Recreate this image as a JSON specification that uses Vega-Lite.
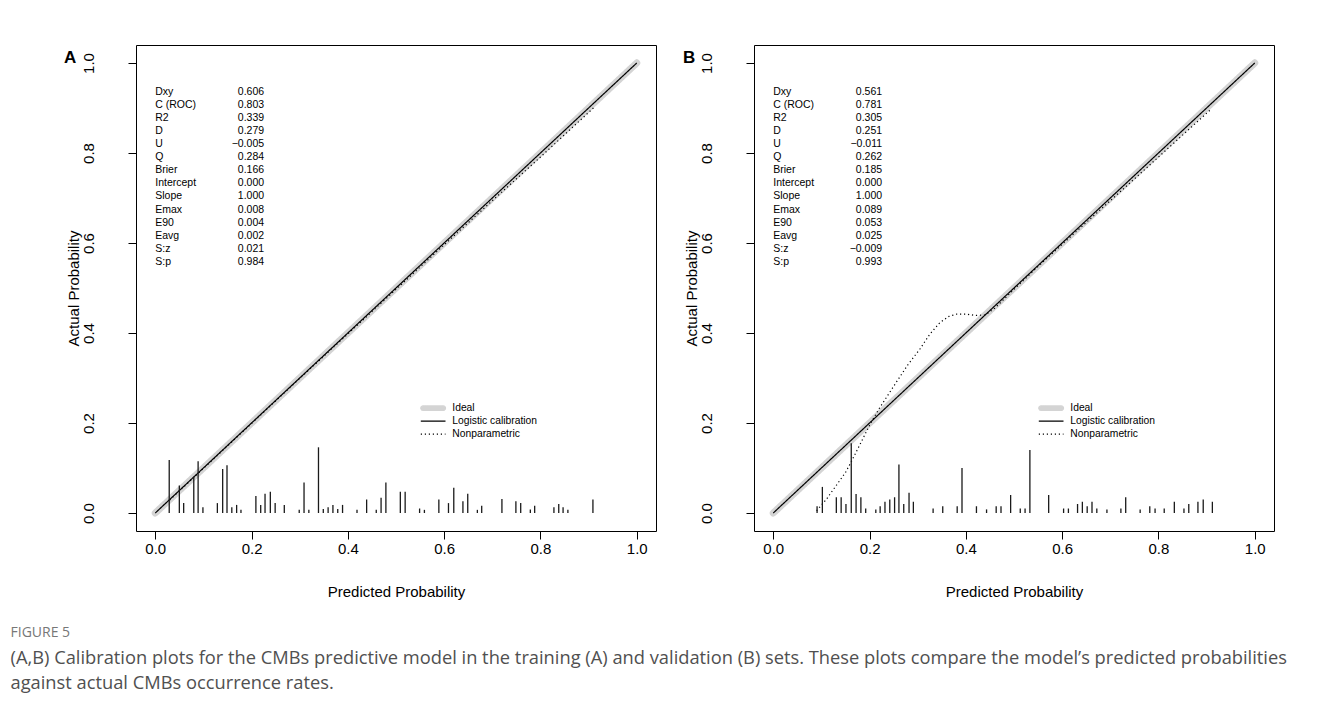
{
  "$schema": "https://vega.github.io/schema/vega-lite/v6.json",
  "background": "white",
  "autosize": {"type": "pad"},
  "padding": {"left": 10, "top": 44, "right": 5, "bottom": 5},
  "datasets": {
    "linesA": [
      {"series": "Ideal", "p": 0, "a": 0}, {"series": "Ideal", "p": 1, "a": 1},
      {"series": "Logistic calibration", "p": 0, "a": 0}, {"series": "Logistic calibration", "p": 1, "a": 1},
      {"series": "Nonparametric", "p": 0.03, "a": 0.029}, {"series": "Nonparametric", "p": 0.1, "a": 0.099},
      {"series": "Nonparametric", "p": 0.2, "a": 0.199}, {"series": "Nonparametric", "p": 0.3, "a": 0.299},
      {"series": "Nonparametric", "p": 0.4, "a": 0.398}, {"series": "Nonparametric", "p": 0.5, "a": 0.497},
      {"series": "Nonparametric", "p": 0.6, "a": 0.596}, {"series": "Nonparametric", "p": 0.7, "a": 0.694},
      {"series": "Nonparametric", "p": 0.8, "a": 0.791}, {"series": "Nonparametric", "p": 0.91, "a": 0.9}
    ],
    "linesB": [
      {"series": "Ideal", "p": 0, "a": 0}, {"series": "Ideal", "p": 1, "a": 1},
      {"series": "Logistic calibration", "p": 0, "a": 0}, {"series": "Logistic calibration", "p": 1, "a": 1},
      {"series": "Nonparametric", "p": 0.09, "a": 0.005}, {"series": "Nonparametric", "p": 0.11, "a": 0.03},
      {"series": "Nonparametric", "p": 0.13, "a": 0.06}, {"series": "Nonparametric", "p": 0.15, "a": 0.09},
      {"series": "Nonparametric", "p": 0.163, "a": 0.116}, {"series": "Nonparametric", "p": 0.18, "a": 0.152},
      {"series": "Nonparametric", "p": 0.2, "a": 0.195}, {"series": "Nonparametric", "p": 0.22, "a": 0.232},
      {"series": "Nonparametric", "p": 0.24, "a": 0.265}, {"series": "Nonparametric", "p": 0.257, "a": 0.293},
      {"series": "Nonparametric", "p": 0.28, "a": 0.33}, {"series": "Nonparametric", "p": 0.305, "a": 0.365},
      {"series": "Nonparametric", "p": 0.325, "a": 0.397}, {"series": "Nonparametric", "p": 0.346, "a": 0.423},
      {"series": "Nonparametric", "p": 0.365, "a": 0.437}, {"series": "Nonparametric", "p": 0.381, "a": 0.442},
      {"series": "Nonparametric", "p": 0.4, "a": 0.442}, {"series": "Nonparametric", "p": 0.42, "a": 0.439},
      {"series": "Nonparametric", "p": 0.44, "a": 0.44}, {"series": "Nonparametric", "p": 0.46, "a": 0.455},
      {"series": "Nonparametric", "p": 0.5, "a": 0.497}, {"series": "Nonparametric", "p": 0.55, "a": 0.548},
      {"series": "Nonparametric", "p": 0.6, "a": 0.597}, {"series": "Nonparametric", "p": 0.7, "a": 0.694},
      {"series": "Nonparametric", "p": 0.8, "a": 0.791}, {"series": "Nonparametric", "p": 0.91, "a": 0.898}
    ],
    "spikesA": [
      {"p": 0.029, "h": 0.118}, {"p": 0.05, "h": 0.061}, {"p": 0.059, "h": 0.022}, {"p": 0.08, "h": 0.08},
      {"p": 0.089, "h": 0.115}, {"p": 0.099, "h": 0.013}, {"p": 0.129, "h": 0.022}, {"p": 0.14, "h": 0.098},
      {"p": 0.149, "h": 0.106}, {"p": 0.159, "h": 0.013}, {"p": 0.169, "h": 0.018}, {"p": 0.178, "h": 0.007},
      {"p": 0.209, "h": 0.038}, {"p": 0.219, "h": 0.018}, {"p": 0.228, "h": 0.043}, {"p": 0.239, "h": 0.047},
      {"p": 0.249, "h": 0.022}, {"p": 0.268, "h": 0.018}, {"p": 0.299, "h": 0.007}, {"p": 0.309, "h": 0.068},
      {"p": 0.319, "h": 0.007}, {"p": 0.339, "h": 0.146}, {"p": 0.349, "h": 0.009}, {"p": 0.359, "h": 0.013},
      {"p": 0.369, "h": 0.018}, {"p": 0.379, "h": 0.009}, {"p": 0.389, "h": 0.018}, {"p": 0.419, "h": 0.007},
      {"p": 0.439, "h": 0.03}, {"p": 0.459, "h": 0.007}, {"p": 0.469, "h": 0.034}, {"p": 0.479, "h": 0.068},
      {"p": 0.509, "h": 0.047}, {"p": 0.519, "h": 0.047}, {"p": 0.549, "h": 0.01}, {"p": 0.559, "h": 0.007},
      {"p": 0.589, "h": 0.03}, {"p": 0.609, "h": 0.022}, {"p": 0.62, "h": 0.056}, {"p": 0.639, "h": 0.026},
      {"p": 0.649, "h": 0.043}, {"p": 0.669, "h": 0.007}, {"p": 0.678, "h": 0.016}, {"p": 0.72, "h": 0.031},
      {"p": 0.749, "h": 0.026}, {"p": 0.759, "h": 0.022}, {"p": 0.779, "h": 0.008}, {"p": 0.788, "h": 0.016},
      {"p": 0.828, "h": 0.013}, {"p": 0.838, "h": 0.02}, {"p": 0.847, "h": 0.013}, {"p": 0.857, "h": 0.007},
      {"p": 0.909, "h": 0.03}
    ],
    "spikesB": [
      {"p": 0.091, "h": 0.015}, {"p": 0.102, "h": 0.058}, {"p": 0.131, "h": 0.035}, {"p": 0.141, "h": 0.035},
      {"p": 0.151, "h": 0.02}, {"p": 0.162, "h": 0.155}, {"p": 0.172, "h": 0.042}, {"p": 0.182, "h": 0.035},
      {"p": 0.192, "h": 0.01}, {"p": 0.213, "h": 0.008}, {"p": 0.222, "h": 0.015}, {"p": 0.232, "h": 0.025},
      {"p": 0.242, "h": 0.03}, {"p": 0.252, "h": 0.035}, {"p": 0.261, "h": 0.108}, {"p": 0.271, "h": 0.02},
      {"p": 0.282, "h": 0.045}, {"p": 0.291, "h": 0.025}, {"p": 0.332, "h": 0.01}, {"p": 0.352, "h": 0.015},
      {"p": 0.382, "h": 0.015}, {"p": 0.392, "h": 0.1}, {"p": 0.422, "h": 0.015}, {"p": 0.443, "h": 0.008},
      {"p": 0.463, "h": 0.015}, {"p": 0.473, "h": 0.015}, {"p": 0.493, "h": 0.04}, {"p": 0.513, "h": 0.01},
      {"p": 0.523, "h": 0.01}, {"p": 0.533, "h": 0.14}, {"p": 0.572, "h": 0.04}, {"p": 0.603, "h": 0.01},
      {"p": 0.613, "h": 0.01}, {"p": 0.632, "h": 0.02}, {"p": 0.642, "h": 0.025}, {"p": 0.652, "h": 0.015},
      {"p": 0.662, "h": 0.025}, {"p": 0.672, "h": 0.01}, {"p": 0.693, "h": 0.008}, {"p": 0.722, "h": 0.01},
      {"p": 0.732, "h": 0.035}, {"p": 0.762, "h": 0.008}, {"p": 0.782, "h": 0.015}, {"p": 0.793, "h": 0.01},
      {"p": 0.812, "h": 0.01}, {"p": 0.833, "h": 0.025}, {"p": 0.853, "h": 0.01}, {"p": 0.863, "h": 0.02},
      {"p": 0.882, "h": 0.025}, {"p": 0.893, "h": 0.03}, {"p": 0.912, "h": 0.025}
    ],
    "statsA": [
      {"stat": "Dxy", "value": "0.606"}, {"stat": "C (ROC)", "value": "0.803"}, {"stat": "R2", "value": "0.339"},
      {"stat": "D", "value": "0.279"}, {"stat": "U", "value": "−0.005"}, {"stat": "Q", "value": "0.284"},
      {"stat": "Brier", "value": "0.166"}, {"stat": "Intercept", "value": "0.000"}, {"stat": "Slope", "value": "1.000"},
      {"stat": "Emax", "value": "0.008"}, {"stat": "E90", "value": "0.004"}, {"stat": "Eavg", "value": "0.002"},
      {"stat": "S:z", "value": "0.021"}, {"stat": "S:p", "value": "0.984"}
    ],
    "statsB": [
      {"stat": "Dxy", "value": "0.561"}, {"stat": "C (ROC)", "value": "0.781"}, {"stat": "R2", "value": "0.305"},
      {"stat": "D", "value": "0.251"}, {"stat": "U", "value": "−0.011"}, {"stat": "Q", "value": "0.262"},
      {"stat": "Brier", "value": "0.185"}, {"stat": "Intercept", "value": "0.000"}, {"stat": "Slope", "value": "1.000"},
      {"stat": "Emax", "value": "0.089"}, {"stat": "E90", "value": "0.053"}, {"stat": "Eavg", "value": "0.025"},
      {"stat": "S:z", "value": "−0.009"}, {"stat": "S:p", "value": "0.993"}
    ]
  },
  "title": {
    "text": "FIGURE 5",
    "subtitle": ["(A,B) Calibration plots for the CMBs predictive model in the training (A) and validation (B) sets. These plots compare the model’s predicted probabilities", "against actual CMBs occurrence rates."],
    "orient": "bottom",
    "anchor": "start",
    "dx": -53,
    "offset": 26,
    "font": "Open Sans",
    "fontSize": 14,
    "fontWeight": "normal",
    "color": "#777777",
    "subtitleFont": "Open Sans",
    "subtitleFontSize": 18.3,
    "subtitleColor": "#505050",
    "subtitleLineHeight": 25,
    "subtitlePadding": 10
  },
  "spacing": 25,
  "hconcat": [
    {
      "width": 520,
      "height": 486,
      "title": {"text": "A", "anchor": "start", "frame": "group", "dx": -72, "dy": 22, "offset": 0, "font": "Liberation Sans", "fontSize": 17, "fontWeight": "bold", "color": "black"},
      "layer": [
        {
          "layer": [
            {
              "data": {"name": "linesA"},
              "transform": [{"filter": "datum.series === 'Ideal'"}],
              "mark": {"type": "line", "strokeWidth": 7, "strokeCap": "round"},
              "encoding": {
                "x": {"field": "p", "type": "quantitative", "scale": {"domain": [-0.04, 1.04], "nice": false, "zero": false}, "axis": {"values": [0, 0.2, 0.4, 0.6, 0.8, 1], "format": ".1f"}, "title": "Predicted Probability"},
                "y": {"field": "a", "type": "quantitative", "scale": {"domain": [-0.04, 1.04], "nice": false, "zero": false}, "axis": {"values": [0, 0.2, 0.4, 0.6, 0.8, 1], "format": ".1f"}, "title": "Actual Probability"},
                "color": {"field": "series", "type": "nominal", "scale": {"domain": ["Ideal", "Logistic calibration", "Nonparametric"], "range": ["#d4d4d4", "#000000", "#000000"]},
                  "legend": {"title": null, "orient": "none", "legendX": 292, "legendY": 358, "symbolType": "M-3.8,0L3.8,0", "symbolSize": 42.25, "symbolStrokeWidth": 1.2, "labelFont": "Liberation Sans", "labelFontSize": 10.3, "labelColor": "black", "labelOffset": 14, "rowPadding": 2, "padding": 0,
                    "encode": {"symbols": {"update": {"shape": {"signal": "datum.value === 'Ideal' ? 'M-3.1,-0.7L3.1,-0.7A0.7,0.7 0 0 1 3.1,0.7L-3.1,0.7A0.7,0.7 0 0 1 -3.1,-0.7Z' : 'M-3.8,0L3.8,0'"}, "fill": {"signal": "datum.value === 'Ideal' ? '#d4d4d4' : 'transparent'"}}}}}},
                "strokeDash": {"field": "series", "type": "nominal", "scale": {"domain": ["Ideal", "Logistic calibration", "Nonparametric"], "range": [[1, 0], [1, 0], [1.2, 2.8]]},
                  "legend": {"title": null, "orient": "none", "legendX": 292, "legendY": 358, "symbolType": "M-3.8,0L3.8,0", "symbolSize": 42.25, "symbolStrokeWidth": 1.2, "labelFont": "Liberation Sans", "labelFontSize": 10.3, "labelColor": "black", "labelOffset": 14, "rowPadding": 2, "padding": 0,
                    "encode": {"symbols": {"update": {"shape": {"signal": "datum.value === 'Ideal' ? 'M-3.1,-0.7L3.1,-0.7A0.7,0.7 0 0 1 3.1,0.7L-3.1,0.7A0.7,0.7 0 0 1 -3.1,-0.7Z' : 'M-3.8,0L3.8,0'"}, "fill": {"signal": "datum.value === 'Ideal' ? '#d4d4d4' : 'transparent'"}}}}}}
              }
            },
            {
              "data": {"name": "linesA"},
              "transform": [{"filter": "datum.series !== 'Ideal'"}],
              "mark": {"type": "line", "strokeWidth": 1.2},
              "encoding": {
                "x": {"field": "p", "type": "quantitative"},
                "y": {"field": "a", "type": "quantitative"},
                "color": {"field": "series", "type": "nominal"},
                "strokeDash": {"field": "series", "type": "nominal"}
              }
            },
            {
              "data": {"name": "spikesA"},
              "mark": {"type": "rule", "color": "#1a1a1a", "strokeWidth": 1.3},
              "encoding": {
                "x": {"field": "p", "type": "quantitative"},
                "y": {"field": "h", "type": "quantitative"},
                "y2": {"datum": 0}
              }
            }
          ]
        },
        {
          "data": {"name": "statsA"},
          "mark": {"type": "text", "align": "left", "baseline": "middle", "font": "Liberation Sans", "fontSize": 10.5, "color": "black"},
          "encoding": {
            "x": {"datum": 0},
            "y": {"field": "stat", "type": "ordinal", "sort": null, "scale": {"type": "point", "range": [46.5, 217], "padding": 0}, "axis": null},
            "text": {"field": "stat"}
          }
        },
        {
          "data": {"name": "statsA"},
          "mark": {"type": "text", "align": "right", "baseline": "middle", "font": "Liberation Sans", "fontSize": 10.5, "color": "black"},
          "encoding": {
            "x": {"datum": 0.226},
            "y": {"field": "stat", "type": "ordinal", "sort": null, "scale": {"type": "point", "range": [46.5, 217], "padding": 0}, "axis": null},
            "text": {"field": "value"}
          }
        }
      ],
      "resolve": {"scale": {"y": "independent"}}
    },
    {
      "width": 520,
      "height": 486,
      "title": {"text": "B", "anchor": "start", "frame": "group", "dx": -71, "dy": 22, "offset": 0, "font": "Liberation Sans", "fontSize": 17, "fontWeight": "bold", "color": "black"},
      "layer": [
        {
          "layer": [
            {
              "data": {"name": "linesB"},
              "transform": [{"filter": "datum.series === 'Ideal'"}],
              "mark": {"type": "line", "strokeWidth": 7, "strokeCap": "round"},
              "encoding": {
                "x": {"field": "p", "type": "quantitative", "scale": {"domain": [-0.04, 1.04], "nice": false, "zero": false}, "axis": {"values": [0, 0.2, 0.4, 0.6, 0.8, 1], "format": ".1f"}, "title": "Predicted Probability"},
                "y": {"field": "a", "type": "quantitative", "scale": {"domain": [-0.04, 1.04], "nice": false, "zero": false}, "axis": {"values": [0, 0.2, 0.4, 0.6, 0.8, 1], "format": ".1f"}, "title": "Actual Probability"},
                "color": {"field": "series", "type": "nominal", "scale": {"domain": ["Ideal", "Logistic calibration", "Nonparametric"], "range": ["#d4d4d4", "#000000", "#000000"]},
                  "legend": {"title": null, "orient": "none", "legendX": 292, "legendY": 358, "symbolType": "M-3.8,0L3.8,0", "symbolSize": 42.25, "symbolStrokeWidth": 1.2, "labelFont": "Liberation Sans", "labelFontSize": 10.3, "labelColor": "black", "labelOffset": 14, "rowPadding": 2, "padding": 0,
                    "encode": {"symbols": {"update": {"shape": {"signal": "datum.value === 'Ideal' ? 'M-3.1,-0.7L3.1,-0.7A0.7,0.7 0 0 1 3.1,0.7L-3.1,0.7A0.7,0.7 0 0 1 -3.1,-0.7Z' : 'M-3.8,0L3.8,0'"}, "fill": {"signal": "datum.value === 'Ideal' ? '#d4d4d4' : 'transparent'"}}}}}},
                "strokeDash": {"field": "series", "type": "nominal", "scale": {"domain": ["Ideal", "Logistic calibration", "Nonparametric"], "range": [[1, 0], [1, 0], [1.2, 2.8]]},
                  "legend": {"title": null, "orient": "none", "legendX": 292, "legendY": 358, "symbolType": "M-3.8,0L3.8,0", "symbolSize": 42.25, "symbolStrokeWidth": 1.2, "labelFont": "Liberation Sans", "labelFontSize": 10.3, "labelColor": "black", "labelOffset": 14, "rowPadding": 2, "padding": 0,
                    "encode": {"symbols": {"update": {"shape": {"signal": "datum.value === 'Ideal' ? 'M-3.1,-0.7L3.1,-0.7A0.7,0.7 0 0 1 3.1,0.7L-3.1,0.7A0.7,0.7 0 0 1 -3.1,-0.7Z' : 'M-3.8,0L3.8,0'"}, "fill": {"signal": "datum.value === 'Ideal' ? '#d4d4d4' : 'transparent'"}}}}}}
              }
            },
            {
              "data": {"name": "linesB"},
              "transform": [{"filter": "datum.series !== 'Ideal'"}],
              "mark": {"type": "line", "strokeWidth": 1.2},
              "encoding": {
                "x": {"field": "p", "type": "quantitative"},
                "y": {"field": "a", "type": "quantitative"},
                "color": {"field": "series", "type": "nominal"},
                "strokeDash": {"field": "series", "type": "nominal"}
              }
            },
            {
              "data": {"name": "spikesB"},
              "mark": {"type": "rule", "color": "#1a1a1a", "strokeWidth": 1.3},
              "encoding": {
                "x": {"field": "p", "type": "quantitative"},
                "y": {"field": "h", "type": "quantitative"},
                "y2": {"datum": 0}
              }
            }
          ]
        },
        {
          "data": {"name": "statsB"},
          "mark": {"type": "text", "align": "left", "baseline": "middle", "font": "Liberation Sans", "fontSize": 10.5, "color": "black"},
          "encoding": {
            "x": {"datum": 0},
            "y": {"field": "stat", "type": "ordinal", "sort": null, "scale": {"type": "point", "range": [46.5, 217], "padding": 0}, "axis": null},
            "text": {"field": "stat"}
          }
        },
        {
          "data": {"name": "statsB"},
          "mark": {"type": "text", "align": "right", "baseline": "middle", "font": "Liberation Sans", "fontSize": 10.5, "color": "black"},
          "encoding": {
            "x": {"datum": 0.226},
            "y": {"field": "stat", "type": "ordinal", "sort": null, "scale": {"type": "point", "range": [46.5, 217], "padding": 0}, "axis": null},
            "text": {"field": "value"}
          }
        }
      ],
      "resolve": {"scale": {"y": "independent"}}
    }
  ],
  "resolve": {
    "scale": {"color": "independent", "strokeDash": "independent"},
    "legend": {"color": "independent", "strokeDash": "independent"}
  },
  "config": {
    "view": {"stroke": "black", "strokeWidth": 1},
    "axis": {
      "domain": false, "grid": false, "ticks": true, "tickColor": "black", "tickSize": 8, "tickWidth": 1,
      "labelFont": "Liberation Sans", "labelFontSize": 15, "labelColor": "black",
      "titleFont": "Liberation Sans", "titleFontSize": 15, "titleFontWeight": "normal", "titleColor": "black"
    },
    "axisX": {"labelPadding": 2, "titlePadding": 28},
    "axisY": {"labelAngle": -90, "labelAlign": "center", "labelBaseline": "bottom", "labelPadding": 32, "titlePadding": 0}
  }
}
